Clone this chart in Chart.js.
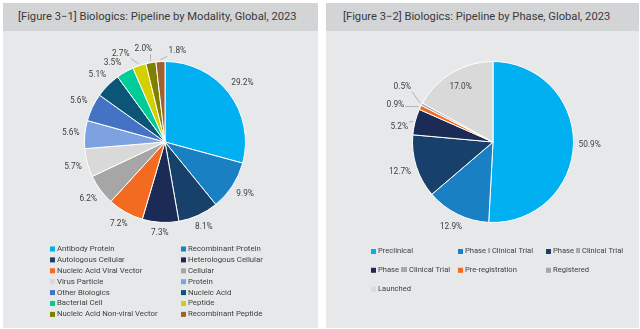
<!DOCTYPE html>
<html><head><meta charset="utf-8">
<script src="https://cdn.jsdelivr.net/npm/chart.js@4"></script>
<style>
body{margin:0;width:640px;height:329px;background:#fff;position:relative;overflow:hidden;font-family:Roboto,sans-serif}
.panel{position:absolute;top:3px;height:325px;background:#e7e8e9}
.title{height:28px;background:#d3d4d6;color:#3a3a3a;font-size:11.2px;line-height:28px;padding-left:15px;white-space:nowrap}
.panel canvas{position:absolute;left:0;top:28px}
</style></head>
<body>
<div class="panel" style="left:3px;width:315px"><div class="title">[Figure 3−1] Biologics: Pipeline by Modality, Global, 2023</div><canvas id="c1" width="315" height="297"></canvas></div>
<div class="panel" style="left:326px;width:313px"><div class="title" style="padding-left:17px">[Figure 3−2] Biologics: Pipeline by Phase, Global, 2023</div><canvas id="c2" width="313" height="297"></canvas></div>
<script>
const modalityLabels = ['Antibody Protein','Recombinant Protein','Autologous Cellular','Heterologous Cellular','Nucleic Acid Viral Vector','Cellular','Virus Particle','Protein','Other Biologics','Nucleic Acid','Bacterial Cell','Peptide','Nucleic Acid Non-viral Vector','Recombinant Peptide'];
const modalityShares = [29.2, 9.9, 8.1, 7.3, 7.2, 6.2, 5.7, 5.6, 5.6, 5.1, 3.5, 2.7, 2.0, 1.8];
const modalityColors = ['#00b0f0','#1a80c4','#17406a','#1b2b55','#f26b21','#a6a6a6','#d9d9d9','#7ea1e0','#4472c4','#0b5576','#00cc99','#d4d000','#808000','#a0622d'];

const phaseLabels = ['Preclinical','Phase I Clinical Trial','Phase II Clinical Trial','Phase III Clinical Trial','Pre-registration','Registered','Launched'];
const phaseShares = [50.9, 12.9, 12.7, 5.2, 0.9, 0.5, 17.0];
const phaseColors = ['#00b0f0','#1a80c4','#17406a','#1b2b55','#f26b21','#a6a6a6','#d9d9d9'];

const TXT = '#404040';

const sliceLabels = {
  id: 'sliceLabels',
  afterDatasetsDraw(chart, args, o) {
    const ctx = chart.ctx, meta = chart.getDatasetMeta(0), ds = chart.data.datasets[0];
    ctx.save();
    ctx.font = o.font; ctx.fillStyle = TXT; ctx.textAlign = 'center'; ctx.textBaseline = 'middle';
    meta.data.forEach((arc, i) => {
      const p = arc.getProps(['x','y','startAngle','endAngle','outerRadius'], true);
      const txt = ds.data[i].toFixed(1) + '%';
      const w = ctx.measureText(txt).width / 2, h = 5;
      const mid = (p.startAngle + p.endAngle) / 2;
      const sh = (o.shift && o.shift[i]) || null;
      let lx, ly;
      if (o.inside && o.inside.includes(i)) {
        lx = p.x + p.outerRadius * 0.79 * Math.cos(mid);
        ly = p.y + p.outerRadius * 0.79 * Math.sin(mid);
      } else {
        const ang = mid + (sh ? sh[0] * Math.PI / 180 : 0);
        const c = Math.cos(ang), s = Math.sin(ang);
        const d = p.outerRadius + o.gap + w * Math.abs(c) + h * Math.abs(s) + (sh ? sh[1] : 0);
        lx = p.x + d * c; ly = p.y + d * s;
        if (sh && sh[2]) {
          const sx = p.x + (p.outerRadius + 2) * Math.cos(mid), sy = p.y + (p.outerRadius + 2) * Math.sin(mid);
          const ex = Math.min(Math.max(sx, lx - w - 1), lx + w + 1), ey = Math.min(Math.max(sy, ly - h), ly + h);
          ctx.strokeStyle = '#a6a6a6'; ctx.lineWidth = 0.8;
          ctx.beginPath(); ctx.moveTo(sx, sy); ctx.lineTo(ex, ey); ctx.stroke();
        }
      }
      ctx.fillText(txt, lx, ly);
    });
    ctx.restore();
  }
};

const gridLegend = {
  id: 'gridLegend',
  afterDraw(chart, args, o) {
    const ctx = chart.ctx, ds = chart.data.datasets[0];
    ctx.save();
    ctx.font = o.font; ctx.textBaseline = 'middle'; ctx.textAlign = 'left';
    chart.data.labels.forEach((lab, i) => {
      const col = i % o.cols.length, row = Math.floor(i / o.cols.length);
      const x = o.cols[col], y = o.top + row * o.rowH;
      ctx.fillStyle = ds.backgroundColor[i];
      ctx.fillRect(x - 7, y - 2.5, 5, 5);
      ctx.fillStyle = TXT;
      ctx.fillText(lab, x, y);
    });
    ctx.restore();
  }
};

function makePie(id, labels, data, colors, pad, labelOpts, legendOpts) {
  return new Chart(document.getElementById(id), {
    type: 'pie',
    data: { labels, datasets: [{ data, backgroundColor: colors, borderColor: '#ffffff', borderWidth: 1 }] },
    options: {
      responsive: false, animation: false,
      layout: { padding: pad },
      plugins: { legend: { display: false }, tooltip: { enabled: false },
        sliceLabels: labelOpts, gridLegend: legendOpts }
    },
    plugins: [sliceLabels, gridLegend]
  });
}

makePie('c1', modalityLabels, modalityShares, modalityColors,
  { left: 81, right: 72, top: 30, bottom: 105 },
  { font: '8.3px Roboto', gap: 5, shift: { 10: [-4, 0, false], 11: [-8, 5, true], 12: [-3, 3, true], 13: [11, 0, true] } },
  { font: '7.8px Roboto', cols: [54, 185], top: 218, rowH: 10.9 });

makePie('c2', phaseLabels, phaseShares, phaseColors,
  { left: 86, right: 65, top: 30, bottom: 105 },
  { font: '8.3px Roboto', gap: 5, inside: [6], shift: { 3: [-5.4, 0, true], 4: [-4.5, 9, true], 5: [3.4, 10.5, true] } },
  { font: '7.6px Roboto', cols: [52, 139, 227], top: 220.5, rowH: 18.8 });
</script>
</body></html>
